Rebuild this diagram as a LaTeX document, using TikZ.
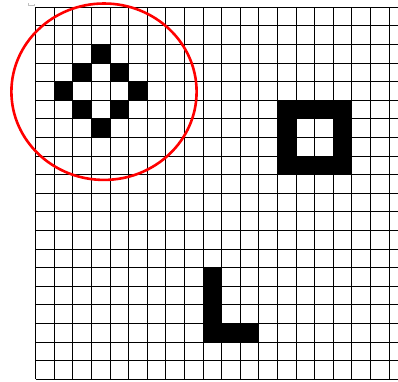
\documentclass[tikz,border=0pt]{standalone}
\begin{document}
\begin{tikzpicture}[x=1pt,y=-1pt,
  gridline/.style={black,line width=0.9pt},
  cellfill/.style={fill=black,draw=none},
  ring/.style={draw=red,line width=2.6pt}]
\useasboundingbox (0,0) rectangle (398,381);
\def\ox{35.7}\def\oy{7.3}\def\cs{18.6}
% black cells
\foreach \c/\r in {3/2,2/3,4/3,1/4,5/4,2/5,4/5,3/6,
  13/5,14/5,15/5,16/5,13/6,16/6,13/7,16/7,13/8,14/8,15/8,16/8,
  9/14,9/15,9/16,9/17,10/17,11/17}
  \fill[cellfill] ({\ox+\c*\cs},{\oy+\r*\cs}) rectangle ++(\cs,\cs);
% grid
\foreach \i in {0,...,19}
  \draw[gridline] ({\ox+\i*\cs},\oy) -- ({\ox+\i*\cs},{\oy+20*\cs});
\foreach \j in {0,...,20}
  \draw[gridline] (\ox,{\oy+\j*\cs}) -- (398,{\oy+\j*\cs});
% small corner mark
\draw[gray!50,line width=0.8pt] (28,3) -- (28,5) -- (34,5) -- (34,3.5);
% red ellipse
\draw[ring] (104,91.7) ellipse [x radius=92.6, y radius=88.2];
\end{tikzpicture}
\end{document}
